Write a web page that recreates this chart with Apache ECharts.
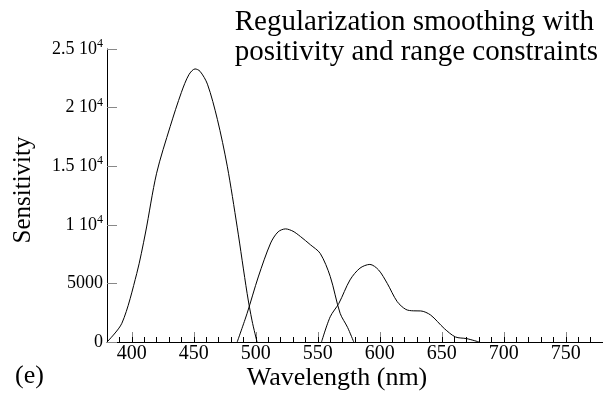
<!DOCTYPE html>
<html>
<head>
<meta charset="utf-8">
<script src="https://cdn.jsdelivr.net/npm/echarts@6/dist/echarts.min.js"></script>
<style>
  html, body { margin: 0; padding: 0; background: #fff; }
  #chart { width: 603px; height: 393px; }
</style>
</head>
<body>
<div id="chart"></div>
<script>
// wavelength (nm) / sensitivity pairs
var blueCurve = [[380,0],[392,1600],[404,5850],[411,9300],[420,14400],[431,18400],[440,21300],[446,22800],[451,23300],[455,23100],[461,22000],[469,19000],[477,15000],[485,9800],[493,4150],[497,1800],[501,0]];
var greenCurve = [[485,0],[493,2450],[502,5550],[512,8450],[518,9400],[524,9650],[530,9450],[536,9000],[544,8300],[552,7550],[560,5600],[568,2450],[574,1250],[579,0]];
var redCurve = [[553,0],[560,2150],[567,3300],[576,5300],[584,6300],[592,6620],[599,6150],[606,5000],[614,3450],[621,2780],[627,2660],[633,2650],[641,2300],[652,1150],[661,430],[670,290],[680,0]];

var yTickLabels = {0: '0', 5000: '5000', 10000: '1 10{s|4}', 15000: '1.5 10{s|4}', 20000: '2 10{s|4}', 25000: '2.5 10{s|4}'};

var serif = 'Liberation Serif';

var chart = echarts.init(document.getElementById('chart'));

function curve(data) {
  return {
    type: 'line',
    data: data,
    smooth: 0.3,
    symbol: 'none',
    lineStyle: { color: '#000', width: 1 },
    xAxisIndex: 0
  };
}

chart.setOption({
  animation: false,
  grid: { left: 107, right: 0, top: 49, bottom: 51 },
  xAxis: [{
    type: 'value',
    min: 380,
    max: 780,
    splitNumber: 8,
    axisLine: { lineStyle: { color: '#000', width: 1 } },
    axisTick: { inside: true, length: 10, lineStyle: { color: '#888' } },
    splitLine: { show: false },
    axisLabel: {
      showMinLabel: false,
      showMaxLabel: false,
      margin: 2,
      fontFamily: serif, fontSize: 20, color: '#000',
      formatter: function (v) { return v % 50 === 0 ? String(v) : ''; }
    }
  }, {
    // minor ticks every 10 nm
    type: 'value',
    min: 380,
    max: 780,
    interval: 10,
    position: 'bottom',
    axisLine: { show: false },
    axisTick: { inside: true, length: 5, lineStyle: { color: '#000' } },
    axisLabel: { show: false },
    splitLine: { show: false }
  }],
  yAxis: {
    type: 'value',
    min: 0,
    max: 25000,
    interval: 5000,
    axisLine: { show: true, lineStyle: { color: '#000', width: 1 } },
    axisTick: { inside: true, length: 10, lineStyle: { color: '#888' } },
    splitLine: { show: false },
    axisLabel: {
      margin: 4,
      fontFamily: serif, fontSize: 18, lineHeight: 22, color: '#000',
      formatter: function (v) { return yTickLabels[v]; },
      rich: {
        s: { fontFamily: serif, fontSize: 12, lineHeight: 12, color: '#000', verticalAlign: 'top' }
      }
    }
  },
  graphic: [{
    type: 'text',
    right: 5,
    top: 7,
    style: {
      text: 'Regularization smoothing with\npositivity and range constraints',
      fontFamily: serif, fontSize: 29, lineHeight: 30, fill: '#000', align: 'right'
    }
  }, {
    type: 'text',
    x: 337,
    y: 365,
    style: { text: 'Wavelength (nm)', fontFamily: serif, fontSize: 26, fill: '#000', align: 'center', verticalAlign: 'top' }
  }, {
    type: 'text',
    x: 23,
    y: 190,
    rotation: Math.PI / 2,
    style: { text: 'Sensitivity', fontFamily: serif, fontSize: 25, fill: '#000', align: 'center', verticalAlign: 'middle' }
  }, {
    type: 'text',
    x: 15,
    y: 363,
    style: { text: '(e)', fontFamily: serif, fontSize: 26, fill: '#000', verticalAlign: 'top' }
  }],
  series: [curve(blueCurve), curve(greenCurve), curve(redCurve)]
});
</script>
</body>
</html>
